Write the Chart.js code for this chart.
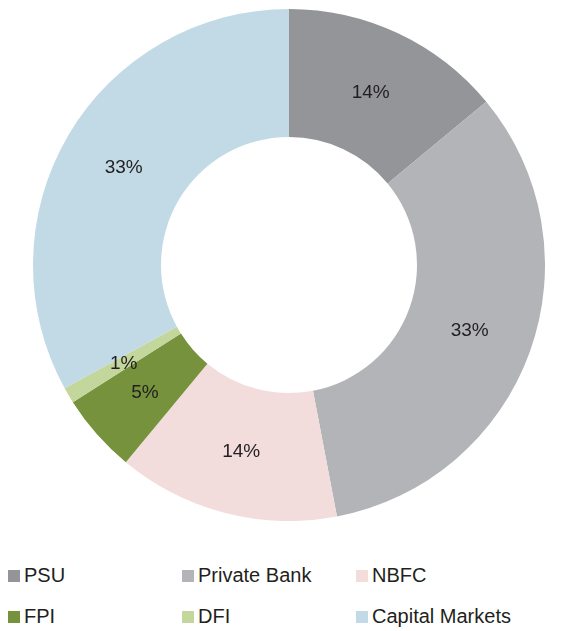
<!DOCTYPE html>
<html>
<head>
<meta charset="utf-8">
<script src="https://cdn.jsdelivr.net/npm/chart.js@4"></script>
<style>
	body { margin: 0; background: #ffffff; font-family: "Liberation Sans", Arial, sans-serif; }
	#wrap { position: relative; width: 582px; height: 631px; }
	#chartBox { position: absolute; left: 33px; top: 9px; width: 512px; height: 512px; }
	#legend { position: absolute; left: 8px; top: 555px; width: 574px; }
	.row { display: flex; height: 41px; align-items: center; }
	.item { display: flex; align-items: center; width: 174px; font-size: 20px; color: #231f20; }
	.item:last-child { width: 220px; }
	.box { width: 12px; height: 12px; margin-right: 4px; flex: none; }
</style>
</head>
<body>
<div id="wrap">
	<div id="chartBox"><canvas id="donut"></canvas></div>
	<div id="legend"></div>
</div>
<script>
const categories = ['PSU', 'Private Bank', 'NBFC', 'FPI', 'DFI', 'Capital Markets'];
const shares = [14, 33, 14, 5, 1, 33];
const colors = ['#939598', '#b3b4b7', '#f2dcdc', '#76923c', '#c3d69b', '#c1dae5'];

// percentage labels sitting in the middle of each ring slice
const sliceLabels = {
	id: 'sliceLabels',
	afterDatasetsDraw: (chart) => {
		const ctx = chart.ctx;
		const meta = chart.getDatasetMeta(0);
		ctx.save();
		ctx.fillStyle = '#231f20';
		ctx.font = '19px "Liberation Sans", Arial, sans-serif';
		ctx.textAlign = 'center';
		ctx.textBaseline = 'middle';
		meta.data.forEach((arc, i) => {
			const p = arc.tooltipPosition();
			ctx.fillText(shares[i] + '%', p.x, p.y + 1);
		});
		ctx.restore();
	}
};

new Chart(document.getElementById('donut').getContext('2d'), {
	type: 'doughnut',
	data: {
		labels: categories,
		datasets: [{
			data: shares,
			backgroundColor: colors,
			borderWidth: 0,
			hoverOffset: 0,
			offset: 0
		}]
	},
	options: {
		responsive: true,
		maintainAspectRatio: false,
		animation: false,
		cutout: '50%',
		layout: { padding: 0 },
		plugins: {
			legend: { display: false },
			tooltip: { enabled: false }
		}
	},
	plugins: [sliceLabels]
});

// legend: two rows of three, same order as the slices
const legend = document.getElementById('legend');
for (let r = 0; r < 2; r++) {
	const row = document.createElement('div');
	row.className = 'row';
	row.innerHTML = [0, 1, 2].map(c => {
		const i = r * 3 + c;
		return `<div class="item"><span class="box" style="background:${colors[i]}"></span>${categories[i]}</div>`;
	}).join('');
	legend.appendChild(row);
}
</script>
</body>
</html>
